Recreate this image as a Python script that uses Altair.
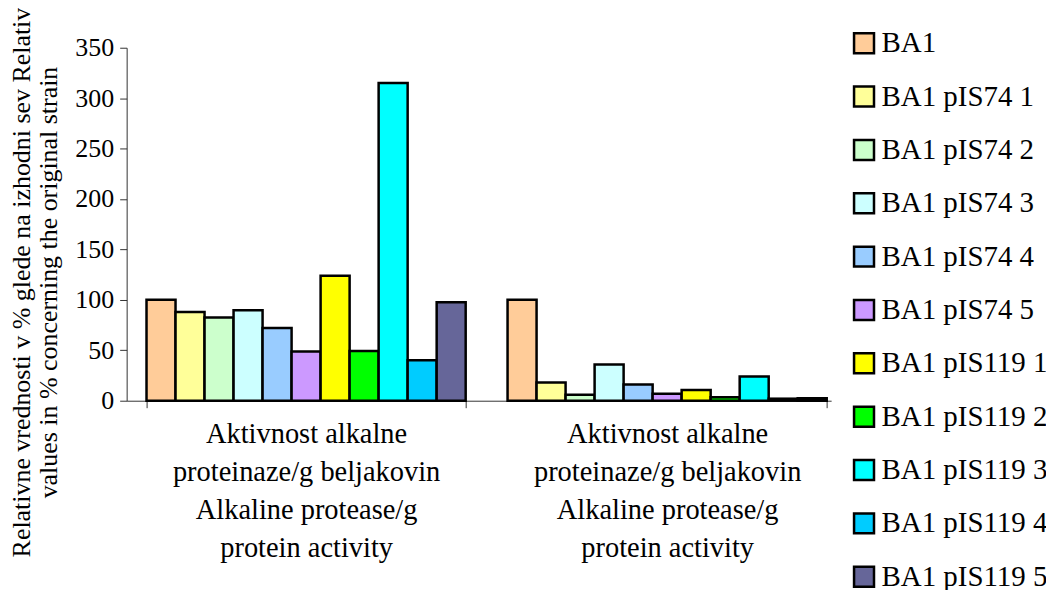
import altair as alt
import pandas as pd

# ---- data ----
groups = ["G1", "G2"]
x_label_lines = ["Aktivnost alkalne", "proteinaze/g beljakovin",
                 "Alkaline protease/g", "protein activity"]
strains = ["BA1", "BA1 pIS74 1", "BA1 pIS74 2", "BA1 pIS74 3", "BA1 pIS74 4",
           "BA1 pIS74 5", "BA1 pIS119 1", "BA1 pIS119 2", "BA1 pIS119 3",
           "BA1 pIS119 4", "BA1 pIS119 5"]
values_g1 = [100, 88, 82.5, 89.7, 72, 48.8, 124, 49.4, 315, 40, 97.7]
values_g2 = [100, 18, 6, 36, 16, 7, 10.5, 3.5, 24, 2, 2.5]
colors = ["#FFCC99", "#FFFF99", "#CCFFCC", "#CCFFFF", "#99CCFF", "#CC99FF",
          "#FFFF00", "#00FF00", "#00FFFF", "#00CCFF", "#666699"]
y_ticks = [0, 50, 100, 150, 200, 250, 300, 350]
y_title = ["Relativne vrednosti v % glede na izhodni sev  Relativ",
           "values in % concerning the original strain"]

rows = []
for g, vals in zip(groups, [values_g1, values_g2]):
    for s, v in zip(strains, vals):
        rows.append({"group": g, "strain": s, "value": v})
df = pd.DataFrame(rows)

FONT = "Liberation Serif, Times New Roman, serif"
label_expr = ("indexof(" + str(groups).replace('"', "'") + ", datum.value) >= 0 ? ["
              + ",".join("'" + t + "'" for t in x_label_lines) + "] : ''")

chart = alt.Chart(df).mark_bar(stroke="black", strokeWidth=2.5).encode(
    x=alt.X("group:N", sort=groups,
            scale=alt.Scale(paddingInner=0.116, paddingOuter=0.055),
            axis=alt.Axis(title=None, labelExpr=label_expr, labelAngle=0,
                          labelFont=FONT, labelFontSize=28.5, labelColor="black",
                          labelLineHeight=38, labelLimit=500, labelPadding=12,
                          labelBaseline="top",
                          tickBand="extent", tickSize=7, tickColor="#333",
                          domainColor="#333", domainWidth=1)),
    xOffset=alt.XOffset("strain:N", sort=strains,
                        scale=alt.Scale(paddingInner=0, paddingOuter=0)),
    y=alt.Y("value:Q",
            scale=alt.Scale(domain=[0, 350], nice=False),
            axis=alt.Axis(values=y_ticks, title=y_title, grid=False,
                          labelFont=FONT, labelFontSize=26, labelColor="black",
                          labelPadding=6, tickSize=7, tickColor="#333",
                          domainColor="#333",
                          titleFont=FONT, titleFontSize=26, titleFontWeight="normal",
                          titleColor="black", titleLineHeight=27,
                          titleX=-105, titleY=235, titleBaseline="middle",
                          titleAngle=-90, titleAlign="center")),
    color=alt.Color("strain:N", sort=strains,
                    scale=alt.Scale(domain=strains, range=colors),
                    legend=alt.Legend(title=None, orient="none",
                                      legendX=707, legendY=-37,
                                      padding=18, fillColor="white",
                                      symbolType="square",
                                      symbolSize=400, symbolStrokeColor="black",
                                      symbolStrokeWidth=2.5, symbolOpacity=1,
                                      labelFont=FONT, labelFontSize=29,
                                      labelColor="black", labelOffset=3,
                                      rowPadding=22.5, labelLimit=400)),
).properties(
    width=722, height=354,
    autosize=alt.AutoSizeParams(type="none"),
    padding={"left": 119, "top": 39, "right": 200, "bottom": 189},
).configure_view(stroke=None)

chart.save("out.html", embed_options={"renderer": "svg", "actions": False})
